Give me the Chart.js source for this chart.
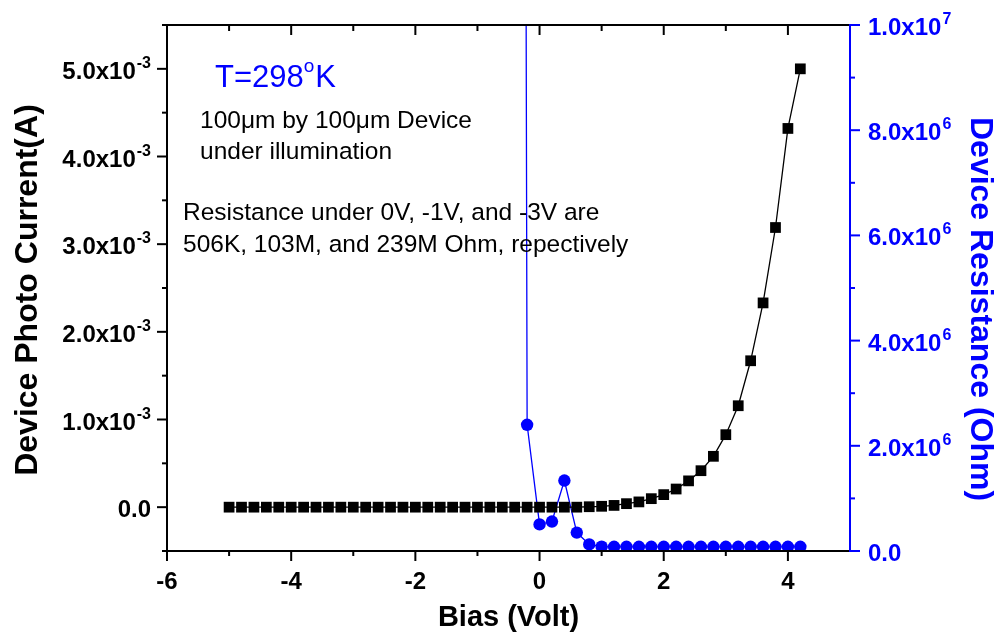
<!DOCTYPE html>
<html lang="en">
<head>
<meta charset="utf-8">
<script src="https://cdn.jsdelivr.net/npm/chart.js@4.4.1/dist/chart.umd.min.js"></script>
<style>
  html, body { margin: 0; padding: 0; background: #fff; }
  #wrap { width: 1003px; height: 637px; }
</style>
</head>
<body>
<div id="wrap"><canvas id="ivChart" width="1003" height="637"></canvas></div>
<script>
// photo current (A) against bias (V)
const biasI = [-5.0, -4.8, -4.6, -4.4, -4.2, -4.0, -3.8, -3.6, -3.4, -3.2,
  -3.0, -2.8, -2.6, -2.4, -2.2, -2.0, -1.8, -1.6, -1.4, -1.2,
  -1.0, -0.8, -0.6, -0.4, -0.2, 0.0, 0.2, 0.4, 0.6, 0.8,
  1.0, 1.2, 1.4, 1.6, 1.8, 2.0, 2.2, 2.4, 2.6, 2.8,
  3.0, 3.2, 3.4, 3.6, 3.8, 4.0, 4.2];
const currentI = [0, 0, 0, 0, 0, 0, 0, 0, 0, 0,
  0, 0, 0, 0, 0, 0, 0, 0, 0, 0,
  0, 0, 0, 0, 0, 0, 0, 0, 0, 0.005e-3,
  0.01e-3, 0.02e-3, 0.04e-3, 0.06e-3, 0.097e-3, 0.143e-3, 0.207e-3, 0.30e-3, 0.416e-3, 0.58e-3,
  0.827e-3, 1.157e-3, 1.67e-3, 2.33e-3, 3.19e-3, 4.32e-3, 5.0e-3];

// device resistance (Ohm) against bias (V); the -0.4 V point is far off scale
const biasR = [-0.4, -0.2, 0.0, 0.2, 0.4, 0.6, 0.8, 1.0, 1.2, 1.4,
  1.6, 1.8, 2.0, 2.2, 2.4, 2.6, 2.8, 3.0, 3.2, 3.4,
  3.6, 3.8, 4.0, 4.2];
const resistance = [1.0e8, 2.40e6, 0.506e6, 0.56e6, 1.34e6, 0.35e6, 0.125e6, 0.082e6, 0.08e6, 0.08e6,
  0.08e6, 0.08e6, 0.08e6, 0.08e6, 0.08e6, 0.08e6, 0.08e6, 0.08e6, 0.08e6, 0.08e6,
  0.08e6, 0.08e6, 0.08e6, 0.08e6];

// axis ticks
const xTicks = [-6, -4, -2, 0, 2, 4];
const xTickLabels = ['-6', '-4', '-2', '0', '2', '4'];
const xMinor = [-5, -3, -1, 1, 3];
const yTicks = [0, 1e-3, 2e-3, 3e-3, 4e-3, 5e-3];
const yTickLabels = ['0.0', '1.0x10', '2.0x10', '3.0x10', '4.0x10', '5.0x10'];
const yTickExp = ['', '-3', '-3', '-3', '-3', '-3'];
const yMinor = [-0.5e-3, 0.5e-3, 1.5e-3, 2.5e-3, 3.5e-3, 4.5e-3, 5.5e-3];
const y1Ticks = [0, 2e6, 4e6, 6e6, 8e6, 1e7];
const y1TickLabels = ['0.0', '2.0x10', '4.0x10', '6.0x10', '8.0x10', '1.0x10'];
const y1TickExp = ['', '6', '6', '6', '6', '7'];
const y1Minor = [1e6, 3e6, 5e6, 7e6, 9e6];

const FONT = '"Liberation Sans", Arial, Helvetica, sans-serif';
const BLUE = '#0000ff';

function seg(ctx, x1, y1, x2, y2) {
  ctx.beginPath();
  ctx.moveTo(x1, y1);
  ctx.lineTo(x2, y2);
  ctx.stroke();
}

// number with a raised exponent, e.g. 5.0x10^-3
function supLabel(ctx, x, y, main, exp, align) {
  ctx.textAlign = 'left';
  ctx.textBaseline = 'alphabetic';
  ctx.font = 'bold 24px ' + FONT;
  const w1 = ctx.measureText(main).width;
  ctx.font = 'bold 16px ' + FONT;
  const w2 = exp ? ctx.measureText(exp).width + 1 : 0;
  const x0 = align === 'right' ? x - w1 - w2 : x;
  ctx.font = 'bold 24px ' + FONT;
  ctx.fillText(main, x0, y + 10);
  if (exp) {
    ctx.font = 'bold 16px ' + FONT;
    ctx.fillText(exp, x0 + w1 + 1, y - 1);
  }
}

const axisPlugin = {
  id: 'originAxes',
  afterDraw(chart) {
    const { ctx, chartArea: a } = chart;
    const { x, y, y1 } = chart.scales;
    ctx.save();
    ctx.lineWidth = 2;

    // frame
    ctx.strokeStyle = '#000';
    seg(ctx, a.left, a.top, a.left, a.bottom + 1);
    seg(ctx, a.left - 1, a.top, a.right, a.top);
    seg(ctx, a.left - 1, a.bottom, a.right, a.bottom);

    // bottom (outward) and top (inward) ticks
    xTicks.forEach(v => {
      const px = x.getPixelForValue(v);
      seg(ctx, px, a.bottom, px, a.bottom + 10);
      seg(ctx, px, a.top, px, a.top + 10);
    });
    xMinor.forEach(v => {
      const px = x.getPixelForValue(v);
      seg(ctx, px, a.bottom, px, a.bottom + 5);
      seg(ctx, px, a.top, px, a.top + 6);
    });

    // left ticks
    yTicks.forEach(v => {
      const py = y.getPixelForValue(v);
      seg(ctx, a.left - 10, py, a.left, py);
    });
    yMinor.forEach(v => {
      const py = y.getPixelForValue(v);
      seg(ctx, a.left - 5, py, a.left, py);
    });

    // right axis in blue
    ctx.strokeStyle = BLUE;
    seg(ctx, a.right, a.top - 1, a.right, a.bottom + 1);
    y1Ticks.forEach(v => {
      const py = y1.getPixelForValue(v);
      seg(ctx, a.right, py, a.right + 10, py);
    });
    y1Minor.forEach(v => {
      const py = y1.getPixelForValue(v);
      seg(ctx, a.right, py, a.right + 5, py);
    });

    // tick labels
    ctx.fillStyle = '#000';
    ctx.font = 'bold 24px ' + FONT;
    ctx.textAlign = 'center';
    ctx.textBaseline = 'alphabetic';
    xTicks.forEach((v, i) => {
      ctx.fillText(xTickLabels[i], x.getPixelForValue(v), 589);
    });
    yTicks.forEach((v, i) => {
      supLabel(ctx, 151, y.getPixelForValue(v), yTickLabels[i], yTickExp[i], 'right');
    });
    ctx.fillStyle = BLUE;
    y1Ticks.forEach((v, i) => {
      supLabel(ctx, 868, y1.getPixelForValue(v), y1TickLabels[i], y1TickExp[i], 'left');
    });

    // axis titles
    ctx.fillStyle = '#000';
    ctx.textAlign = 'center';
    ctx.textBaseline = 'alphabetic';
    ctx.font = 'bold 29px ' + FONT;
    ctx.fillText('Bias (Volt)', (a.left + a.right) / 2, 626);

    ctx.font = 'bold 32px ' + FONT;
    ctx.save();
    ctx.translate(37, 290);
    ctx.rotate(-Math.PI / 2);
    ctx.fillText('Device Photo Current(A)', 0, 0);
    ctx.restore();

    ctx.fillStyle = BLUE;
    ctx.save();
    ctx.translate(971, 309);
    ctx.rotate(Math.PI / 2);
    ctx.fillText('Device Resistance (Ohm)', 0, 0);
    ctx.restore();

    // notes inside the plot
    ctx.textAlign = 'left';
    ctx.font = '31px ' + FONT;
    ctx.fillText('T=298', 215, 87);
    let tx = 215 + ctx.measureText('T=298').width;
    ctx.font = '19px ' + FONT;
    ctx.fillText('o', tx, 72);
    tx += ctx.measureText('o').width + 1;
    ctx.font = '31px ' + FONT;
    ctx.fillText('K', tx, 87);

    ctx.fillStyle = '#000';
    ctx.font = '24.5px ' + FONT;
    ctx.fillText('100\u03bcm by 100\u03bcm Device', 200, 128);
    ctx.fillText('under illumination', 200, 159);
    ctx.fillText('Resistance under 0V, -1V, and -3V are', 183, 220);
    ctx.fillText('506K, 103M, and 239M Ohm, repectively', 183, 252);

    ctx.restore();
  }
};

new Chart(document.getElementById('ivChart'), {
  type: 'line',
  data: {
    datasets: [
      {
        label: 'Device Photo Current',
        data: biasI.map((v, i) => ({ x: v, y: currentI[i] })),
        yAxisID: 'y',
        borderColor: '#000',
        borderWidth: 1.3,
        pointStyle: 'rect',
        pointRadius: 7.6,
        pointBackgroundColor: '#000',
        pointBorderWidth: 0,
        order: 0
      },
      {
        label: 'Device Resistance',
        data: biasR.map((v, i) => ({ x: v, y: resistance[i] })),
        yAxisID: 'y1',
        borderColor: BLUE,
        borderWidth: 1.3,
        pointStyle: 'circle',
        pointRadius: 6.2,
        pointBackgroundColor: BLUE,
        pointBorderWidth: 0,
        order: 1
      }
    ]
  },
  options: {
    responsive: false,
    animation: false,
    devicePixelRatio: 1,
    layout: { padding: { top: 25, left: 0, right: 0, bottom: 0 } },
    plugins: { legend: { display: false }, tooltip: { enabled: false } },
    scales: {
      x: {
        type: 'linear', position: 'bottom', min: -6, max: 5,
        ticks: { display: false }, grid: { display: false }, border: { display: false },
        afterFit: s => { s.height = 86; }
      },
      y: {
        type: 'linear', position: 'left', min: -0.5e-3, max: 5.5e-3,
        ticks: { display: false }, grid: { display: false }, border: { display: false },
        afterFit: s => { s.width = 167; }
      },
      y1: {
        type: 'linear', position: 'right', min: 0, max: 1e7,
        ticks: { display: false }, grid: { display: false }, border: { display: false },
        afterFit: s => { s.width = 153; }
      }
    }
  },
  plugins: [axisPlugin]
});
</script>
</body>
</html>
